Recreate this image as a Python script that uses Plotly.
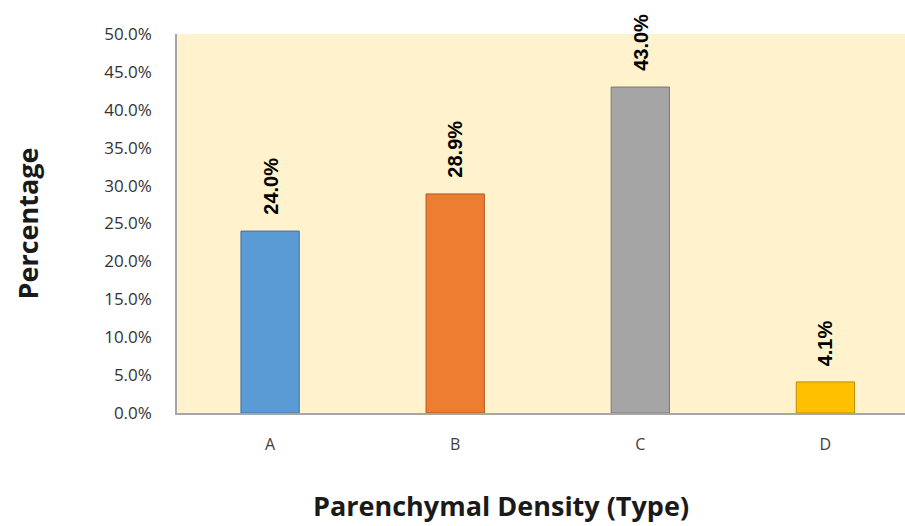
import plotly.graph_objects as go

categories = ["A", "B", "C", "D"]
values = [24.0, 28.9, 43.0, 4.1]
fill_colors = ["#5B9BD5", "#ED7D31", "#A5A5A5", "#FFC000"]
line_colors = ["#41719C", "#AE5A21", "#787878", "#BC8C00"]
y_ticks = [0, 5, 10, 15, 20, 25, 30, 35, 40, 45, 50]
y_tick_labels = [f"{v:.1f}%" for v in y_ticks]
x_title = "Parenchymal Density (Type)"
y_title = "Percentage"

xpos = list(range(len(categories)))

fig = go.Figure()
fig.add_trace(go.Bar(
    x=xpos,
    y=values,
    width=0.315,
    marker=dict(color=fill_colors, line=dict(color=line_colors, width=1)),
    hoverinfo="skip",
))

for xi, v in zip(xpos, values):
    fig.add_annotation(
        x=xi, y=v, xref="x", yref="y",
        text=f"{v:.1f}%",
        textangle=-90,
        showarrow=False,
        xanchor="center", yanchor="bottom",
        yshift=14,
        font=dict(family="Liberation Sans, Arial", size=20, color="#000000", weight="bold"),
    )

# x-axis title (centred on the original chart frame, left of the plot centre)
fig.add_annotation(
    x=0.445, y=-0.19, xref="paper", yref="paper",
    text=x_title, showarrow=False,
    xanchor="center", yanchor="top",
    font=dict(family="Open Sans, Liberation Sans, Arial", size=27, color="#1a1a1a", weight="bold"),
)

fig.update_layout(
    width=905, height=526,
    margin=dict(l=177, r=0, t=34, b=113),
    paper_bgcolor="#FFFFFF",
    plot_bgcolor="#FFF2CC",
    showlegend=False,
    font=dict(family="Open Sans, Liberation Sans, Arial", color="#404040"),
)
fig.update_xaxes(
    range=[-0.503, 3.43],
    tickvals=xpos,
    ticktext=categories,
    showgrid=False, zeroline=False,
    showline=True, linecolor="#A6A6A6", linewidth=1.5,
    ticks="", ticklabelstandoff=16,
    tickfont=dict(size=16, color="#404040"),
)
fig.update_yaxes(
    range=[0, 50],
    tickvals=y_ticks,
    ticktext=y_tick_labels,
    showgrid=False, zeroline=False,
    showline=True, linecolor="#A6A6A6", linewidth=1.5,
    ticks="", ticklabelstandoff=20,
    tickfont=dict(size=17, color="#333333"),
    title=dict(text=y_title,
               font=dict(family="Open Sans, Liberation Sans, Arial", size=27, color="#1a1a1a", weight="bold"),
               standoff=58),
)

fig.write_html("out.html", config={"displayModeBar": False},
               post_script="document.body.style.margin='0';document.body.style.overflow='hidden';")
